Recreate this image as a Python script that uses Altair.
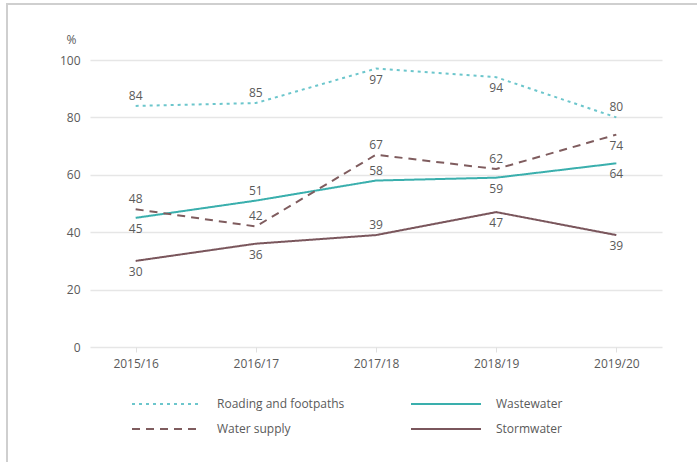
import altair as alt
import pandas as pd

years = ["2015/16", "2016/17", "2017/18", "2018/19", "2019/20"]
series_names = ["Roading and footpaths", "Wastewater", "Water supply", "Stormwater"]
roading = [84, 85, 97, 94, 80]
wastewater = [45, 51, 58, 59, 64]
water_supply = [48, 42, 67, 62, 74]
stormwater = [30, 36, 39, 47, 39]
# where each value label sits relative to its point
roading_lbl = ["above", "above", "below", "below", "above"]
wastewater_lbl = ["below", "above", "above", "below", "below"]
water_lbl = ["above", "above", "above", "above", "below"]
storm_lbl = ["below", "below", "above", "below", "below"]

colors = ["#6cc6cc", "#3aafad", "#7f5c5e", "#7a565c"]
dashes = [[3, 4], [1, 0], [8, 6], [1, 0]]

rows = []
for name, vals, lbls in zip(series_names,
                            [roading, wastewater, water_supply, stormwater],
                            [roading_lbl, wastewater_lbl, water_lbl, storm_lbl]):
    for y, v, l in zip(years, vals, lbls):
        rows.append({"year": y, "value": v, "series": name, "pos": l})
df = pd.DataFrame(rows)

FONT = "Open Sans"
TXT = "#5a5a5a"

base = alt.Chart(df)

x_enc = alt.X("year:N", sort=years, title=None,
              scale=alt.Scale(type="point", padding=0.38),
              axis=alt.Axis(labelAngle=0, labelFontSize=12, labelColor=TXT,
                            labelFont=FONT, domain=False, ticks=True,
                            tickColor="#e0e0e0", tickSize=5, labelPadding=6,
                            grid=False))
y_enc = alt.Y("value:Q", scale=alt.Scale(domain=[0, 100]),
              axis=alt.Axis(values=[0, 20, 40, 60, 80, 100], title="%",
                            titleAngle=0, titleX=-14, titleY=-14,
                            titleAlign="right", titleFontWeight="normal",
                            titleFontSize=12, titleColor=TXT, titleFont=FONT,
                            labelFontSize=12, labelColor=TXT, labelFont=FONT,
                            domain=False, ticks=False, labelPadding=10,
                            gridColor="#e6e6e6", gridWidth=1.5))

legend_kw = dict(title=None, orient="none", legendX=41, legendY=336,
                 columns=2, direction="horizontal",
                 symbolType="M-1,0H9", symbolSize=196,
                 symbolStrokeWidth=2, labelFontSize=12,
                 labelColor=TXT, labelFont=FONT,
                 labelOffset=70, columnPadding=62, rowPadding=11)

lines = base.mark_line(strokeWidth=2).encode(
    x=x_enc,
    y=y_enc,
    color=alt.Color("series:N", sort=series_names,
                    scale=alt.Scale(domain=series_names, range=colors),
                    legend=alt.Legend(**legend_kw)),
    strokeDash=alt.StrokeDash("series:N", sort=series_names,
                              scale=alt.Scale(domain=series_names, range=dashes),
                              legend=alt.Legend(**legend_kw)),
)

above = base.transform_filter(alt.datum.pos == "above").mark_text(
    dy=-10, fontSize=12, color=TXT, font=FONT).encode(
    x=alt.X("year:N", sort=years), y="value:Q", text="value:Q")
below = base.transform_filter(alt.datum.pos == "below").mark_text(
    dy=11, fontSize=12, color=TXT, font=FONT).encode(
    x=alt.X("year:N", sort=years), y="value:Q", text="value:Q")

frame = alt.Chart(alt.Data(values=[{"a": 1}])).mark_rect(
    fill=None, stroke="#cfcfcf", strokeWidth=2).encode(
    x=alt.value(-83), y=alt.value(-56), x2=alt.value(640), y2=alt.value(420))

chart = alt.layer(frame, lines, above, below).properties(
    width=572, height=287,
    autosize=alt.AutoSizeParams(type="none"),
    padding={"left": 90, "top": 60, "right": 35, "bottom": 115},
    background="white",
).configure_view(stroke=None).configure_axis(labelFont=FONT)

chart.save("out.html", embed_options={"renderer": "svg", "actions": False})
